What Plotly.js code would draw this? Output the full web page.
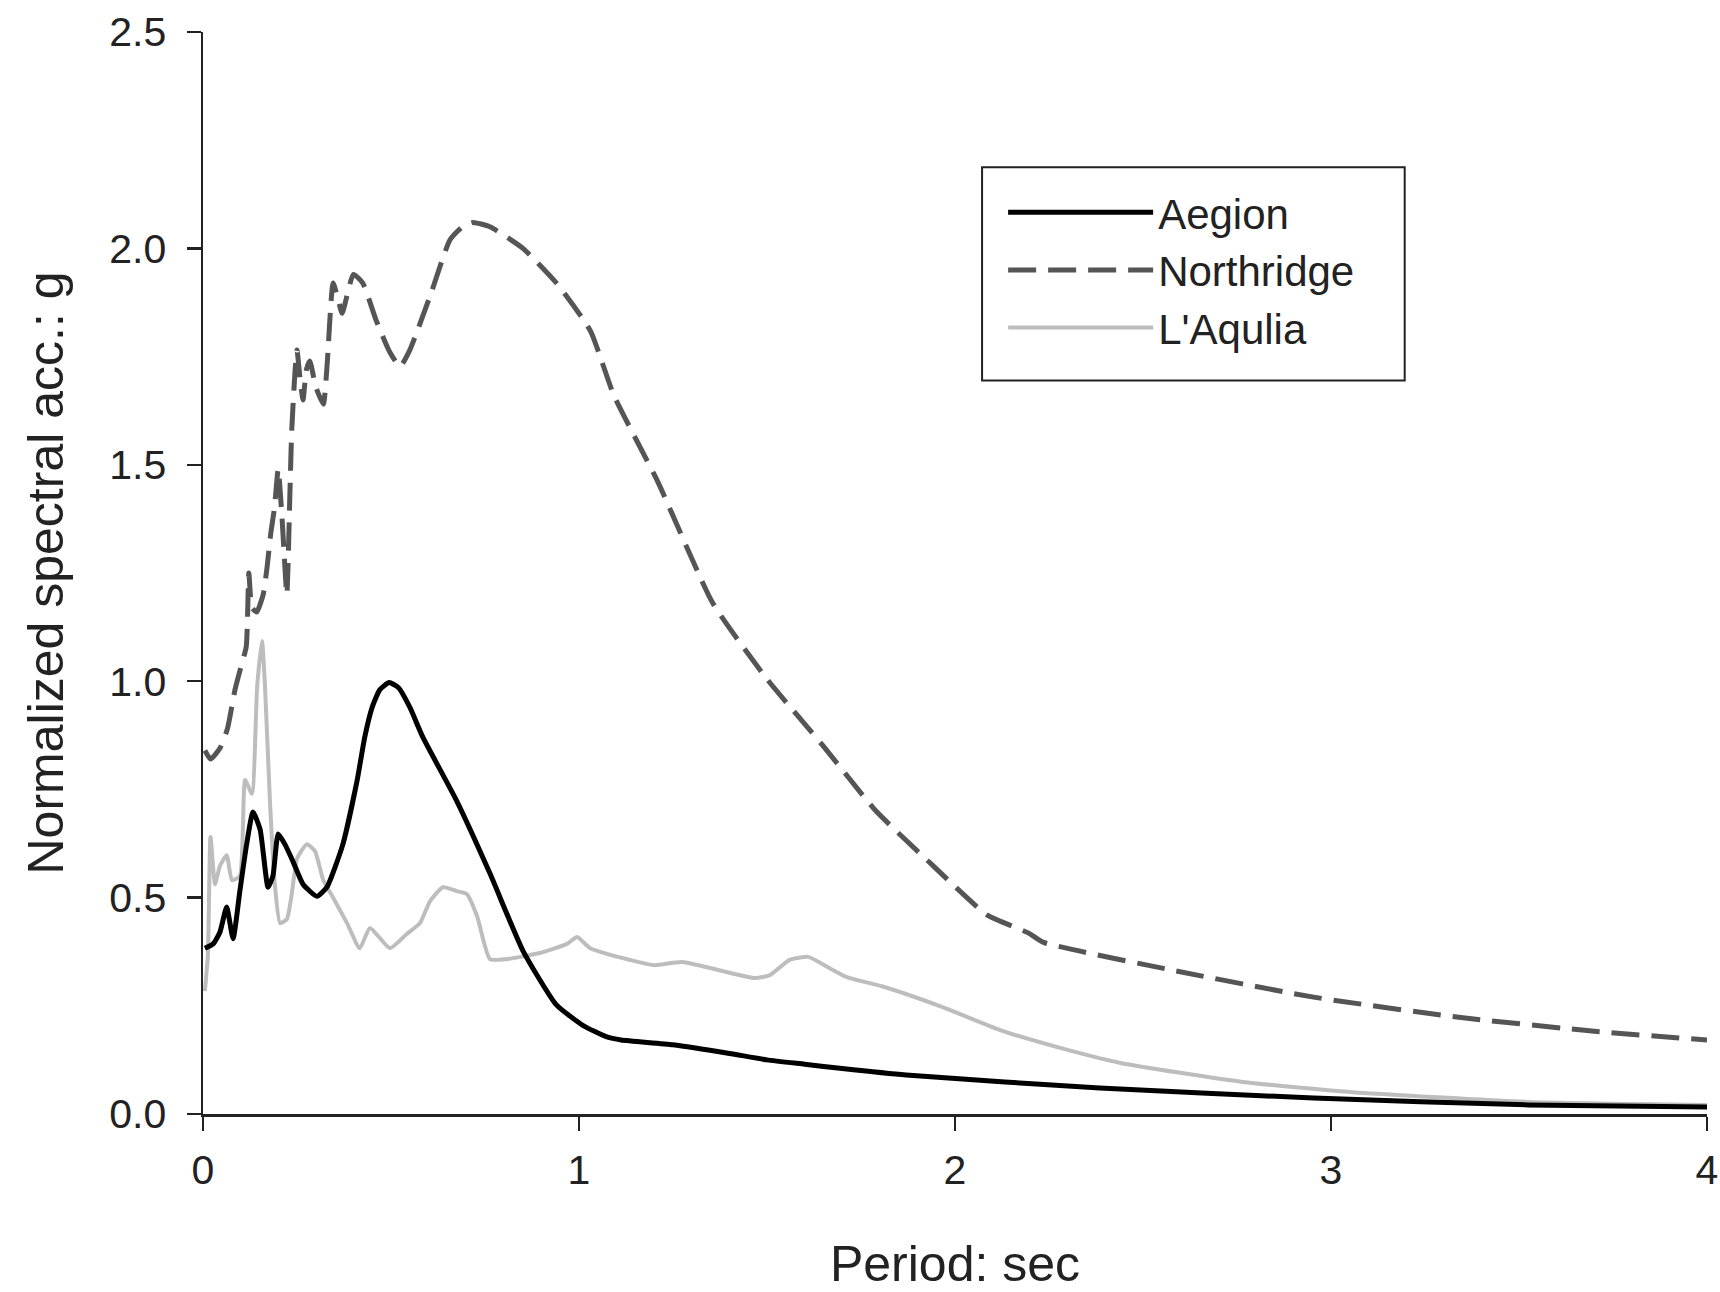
<!DOCTYPE html>
<html>
<head>
<meta charset="utf-8">
<script src="https://cdn.plot.ly/plotly-3.0.1.min.js"></script>
<style>html,body{margin:0;padding:0;background:#fff;}#chart{width:1720px;height:1292px;}</style>
</head>
<body>
<div id="chart"></div>
<script>
// Period (sec) and normalized spectral acceleration (g)
const aegionX = [0.005, 0.027, 0.045, 0.063, 0.08, 0.098, 0.116, 0.133, 0.152, 0.173, 0.186, 0.2, 0.218, 0.24, 0.266, 0.303, 0.33, 0.372, 0.41, 0.43, 0.45, 0.47, 0.495, 0.52, 0.55, 0.585, 0.675, 0.763, 0.851, 0.94, 1.01, 1.074, 1.112, 1.25, 1.4, 1.5, 1.6, 1.7, 1.87, 2.385, 2.954, 3.525, 4.0];
const aegionY = [0.383, 0.393, 0.42, 0.478, 0.405, 0.515, 0.623, 0.698, 0.657, 0.524, 0.55, 0.647, 0.623, 0.582, 0.531, 0.503, 0.525, 0.623, 0.771, 0.87, 0.94, 0.98, 0.997, 0.985, 0.94, 0.87, 0.723, 0.556, 0.377, 0.252, 0.205, 0.178, 0.171, 0.16, 0.14, 0.125, 0.115, 0.105, 0.09, 0.06, 0.037, 0.021, 0.016];

const northX = [0.005, 0.02, 0.045, 0.065, 0.085, 0.10, 0.115, 0.122, 0.13, 0.143, 0.16, 0.17, 0.18, 0.19, 0.2, 0.21, 0.223, 0.231, 0.236, 0.245, 0.25, 0.258, 0.266, 0.275, 0.284, 0.3, 0.32, 0.33, 0.346, 0.36, 0.37, 0.40, 0.425, 0.46, 0.497, 0.524, 0.55, 0.604, 0.657, 0.69, 0.718, 0.763, 0.851, 0.94, 1.03, 1.093, 1.21, 1.356, 1.5, 1.647, 1.79, 1.94, 2.085, 2.196, 2.234, 2.574, 2.954, 3.334, 3.714, 4.0];
const northY = [0.84, 0.82, 0.845, 0.89, 0.98, 1.03, 1.08, 1.25, 1.17, 1.16, 1.2, 1.26, 1.34, 1.40, 1.49, 1.38, 1.20, 1.43, 1.58, 1.72, 1.765, 1.70, 1.65, 1.72, 1.74, 1.68, 1.64, 1.73, 1.92, 1.88, 1.85, 1.94, 1.92, 1.835, 1.76, 1.727, 1.765, 1.89, 2.02, 2.05, 2.06, 2.05, 2.0, 1.92, 1.81, 1.66, 1.46, 1.18, 1.005, 0.853, 0.70, 0.575, 0.46, 0.418, 0.397, 0.333, 0.27, 0.224, 0.19, 0.171];

const aquilaX = [0.005, 0.013, 0.02, 0.032, 0.045, 0.063, 0.077, 0.098, 0.112, 0.13, 0.144, 0.157, 0.165, 0.178, 0.191, 0.205, 0.223, 0.236, 0.25, 0.276, 0.298, 0.32, 0.346, 0.383, 0.417, 0.444, 0.497, 0.542, 0.577, 0.604, 0.638, 0.675, 0.702, 0.729, 0.763, 0.808, 0.896, 0.968, 0.995, 1.03, 1.198, 1.274, 1.468, 1.508, 1.56, 1.61, 1.66, 1.71, 1.81, 1.967, 2.12, 2.27, 2.44, 2.765, 3.05, 3.525, 4.0];
const aquilaY = [0.284, 0.367, 0.64, 0.531, 0.573, 0.598, 0.54, 0.55, 0.772, 0.74, 0.987, 1.093, 0.987, 0.723, 0.531, 0.441, 0.45, 0.508, 0.59, 0.623, 0.607, 0.54, 0.5, 0.441, 0.383, 0.43, 0.383, 0.416, 0.441, 0.492, 0.524, 0.515, 0.508, 0.457, 0.358, 0.358, 0.372, 0.393, 0.409, 0.383, 0.344, 0.351, 0.314, 0.321, 0.356, 0.363, 0.34, 0.317, 0.294, 0.247, 0.194, 0.155, 0.118, 0.074, 0.051, 0.028, 0.021];

const seriesNames = ["Aegion", "Northridge", "L'Aqulia"];
const xTickVals = [0, 1, 2, 3, 4];
const yTickVals = [0, 0.5, 1.0, 1.5, 2.0, 2.5];

const FONT = "Arial, 'Liberation Sans', sans-serif";

const traces = [
  {x: aegionX, y: aegionY, name: seriesNames[0], mode: 'lines',
   line: {color: '#000000', width: 5, shape: 'spline', smoothing: 0.5}},
  {x: northX, y: northY, name: seriesNames[1], mode: 'lines',
   line: {color: '#555555', width: 5, dash: '28px,12px', shape: 'spline', smoothing: 0.5}},
  {x: aquilaX, y: aquilaY, name: seriesNames[2], mode: 'lines',
   line: {color: '#bdbdbd', width: 4, shape: 'spline', smoothing: 0.5}}
];
// draw order: gray behind, black on top
const ordered = [traces[2], traces[1], traces[0]];

const layout = {
  width: 1720, height: 1292,
  paper_bgcolor: '#ffffff', plot_bgcolor: '#ffffff',
  margin: {l: 203, r: 13, t: 32, b: 178, pad: 0},
  font: {family: FONT, color: '#222222', size: 41},
  showlegend: true,
  legend: {
    x: 0.532, y: 0.8646, xanchor: 'left', yanchor: 'top',
    borderwidth: 0, bgcolor: 'rgba(0,0,0,0)',
    font: {family: FONT, size: 42, color: '#222222'},
    traceorder: 'reversed', itemwidth: 145, tracegroupgap: 0
  },
  shapes: [
    {type: 'rect', xref: 'paper', yref: 'paper', x0: 0.518, x1: 0.799, y0: 0.678, y1: 0.875,
     line: {color: '#222222', width: 2}, fillcolor: 'rgba(0,0,0,0)', layer: 'below'}
  ],
  xaxis: {
    range: [0, 4], tickvals: xTickVals, ticktext: xTickVals.map(String),
    showgrid: false, zeroline: false, showline: true, linecolor: '#222222', linewidth: 2.5,
    ticks: 'outside', ticklen: 14, tickwidth: 2.5, tickcolor: '#222222',
    tickfont: {family: FONT, size: 41, color: '#222222'}, ticklabelstandoff: 4,
    title: {text: 'Period: sec', font: {family: FONT, size: 50, color: '#222222'}, standoff: 58},
    automargin: false
  },
  yaxis: {
    range: [0, 2.5], tickvals: yTickVals, ticktext: yTickVals.map(v => v.toFixed(1)),
    showgrid: false, zeroline: false, showline: true, linecolor: '#222222', linewidth: 2.5,
    ticks: 'outside', ticklen: 14, tickwidth: 2.5, tickcolor: '#222222',
    tickfont: {family: FONT, size: 41, color: '#222222'}, ticklabelstandoff: 12,
    title: {text: 'Normalized spectral acc.: g', font: {family: FONT, size: 50, color: '#222222'}, standoff: 30},
    automargin: false
  }
};

Plotly.newPlot('chart', ordered, layout, {displayModeBar: false, staticPlot: true});
</script>
</body>
</html>
